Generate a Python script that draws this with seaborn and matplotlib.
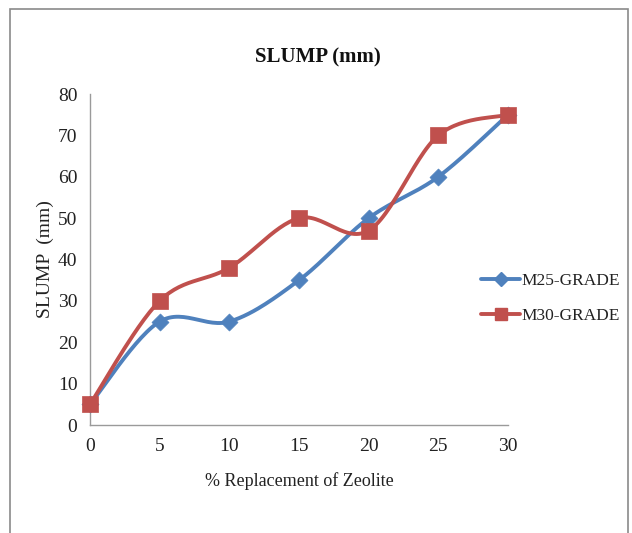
import numpy as np
import pandas as pd
import matplotlib
matplotlib.use("Agg")
import matplotlib.pyplot as plt
import seaborn as sns
from matplotlib.lines import Line2D
from matplotlib.patches import Rectangle

replacement = [0, 5, 10, 15, 20, 25, 30]
m25 = [5, 25, 25, 35, 50, 60, 75]
m30 = [5, 30, 38, 50, 47, 70, 75]
series_names = ["M25-GRADE", "M30-GRADE"]
colors = {"M25-GRADE": "#4F81BD", "M30-GRADE": "#C0504D"}
markers = {"M25-GRADE": "D", "M30-GRADE": "s"}


def smooth(xs, ys, n=30):
    xs = np.asarray(xs, float); ys = np.asarray(ys, float)
    P = np.column_stack([xs, ys])
    out = []
    for i in range(len(P) - 1):
        p0 = P[i - 1] if i > 0 else P[i]
        p1 = P[i]; p2 = P[i + 1]
        p3 = P[i + 2] if i + 2 < len(P) else P[i + 1]
        c1 = p1 + (p2 - p0) / 6.0
        c2 = p2 - (p3 - p1) / 6.0
        t = np.linspace(0, 1, n)[:, None]
        seg = ((1 - t) ** 3) * p1 + 3 * ((1 - t) ** 2) * t * c1 + 3 * (1 - t) * t ** 2 * c2 + t ** 3 * p2
        if i > 0:
            seg = seg[1:]
        out.append(seg)
    return np.vstack(out)


rows = []
pts = []
for name, vals in zip(series_names, [m25, m30]):
    s = smooth(replacement, vals)
    for k, (x, y) in enumerate(s):
        rows.append({"x": x, "y": y, "series": name, "order": k})
    for x, y in zip(replacement, vals):
        pts.append({"x": x, "y": y, "series": name})
curves = pd.DataFrame(rows)
points = pd.DataFrame(pts)

sns.set_style("white")
plt.rcParams["font.family"] = ["Liberation Serif", "DejaVu Serif"]

fig = plt.figure(figsize=(6.32, 5.33), dpi=100)
ax = fig.add_axes([0.1424, 0.2026, 0.6614, 0.621])

for name in series_names:
    d = curves[curves.series == name]
    sns.lineplot(data=d, x="x", y="y", sort=False, estimator=None, color=colors[name],
                 linewidth=2.8, ax=ax, legend=False)
for name in series_names:
    d = points[points.series == name]
    sns.scatterplot(data=d, x="x", y="y", marker=markers[name], color=colors[name],
                    s=75 if name == "M25-GRADE" else 120, edgecolor=colors[name], linewidth=0.5,
                    ax=ax, legend=False, zorder=5)

ax.set_xlim(0, 30)
ax.set_ylim(0, 80)
ax.set_xticks(replacement)
ax.set_yticks(range(0, 81, 10))
for s in ["top", "right"]:
    ax.spines[s].set_visible(False)
for s in ["left", "bottom"]:
    ax.spines[s].set_color("#9a9a9a")
    ax.spines[s].set_linewidth(1.0)
ax.tick_params(axis="both", direction="out", length=5, width=1, color="#9a9a9a",
               labelsize=14, labelcolor="#222222", pad=4)
ax.set_xlabel("% Replacement of Zeolite", fontsize=13, color="#222222", labelpad=13)
ax.set_ylabel("SLUMP  (mm)", fontsize=14, color="#222222", labelpad=3)
for c in ax.collections + ax.lines:
    c.set_clip_on(False)

fig.text(0.503, 0.893, "SLUMP (mm)", ha="center", va="center", fontsize=15,
         fontweight="bold", color="#111111")

handles = [Line2D([0], [0], color=colors[n], marker=markers[n], lw=2.8,
                  markersize=7 if n == "M25-GRADE" else 9) for n in series_names]
fig.legend(handles, series_names, loc="center left", bbox_to_anchor=(0.737, 0.44),
           frameon=False, fontsize=12.5, handlelength=2.2, handletextpad=0.1,
           labelspacing=1.1, labelcolor="#222222")

fig.patches.append(Rectangle((10 / 632, -0.01), 618 / 632, (533 - 9) / 533 + 0.01,
                             transform=fig.transFigure, fill=False,
                             edgecolor="#8a8a8a", linewidth=1.2))

fig.savefig("out.png", dpi=100)
